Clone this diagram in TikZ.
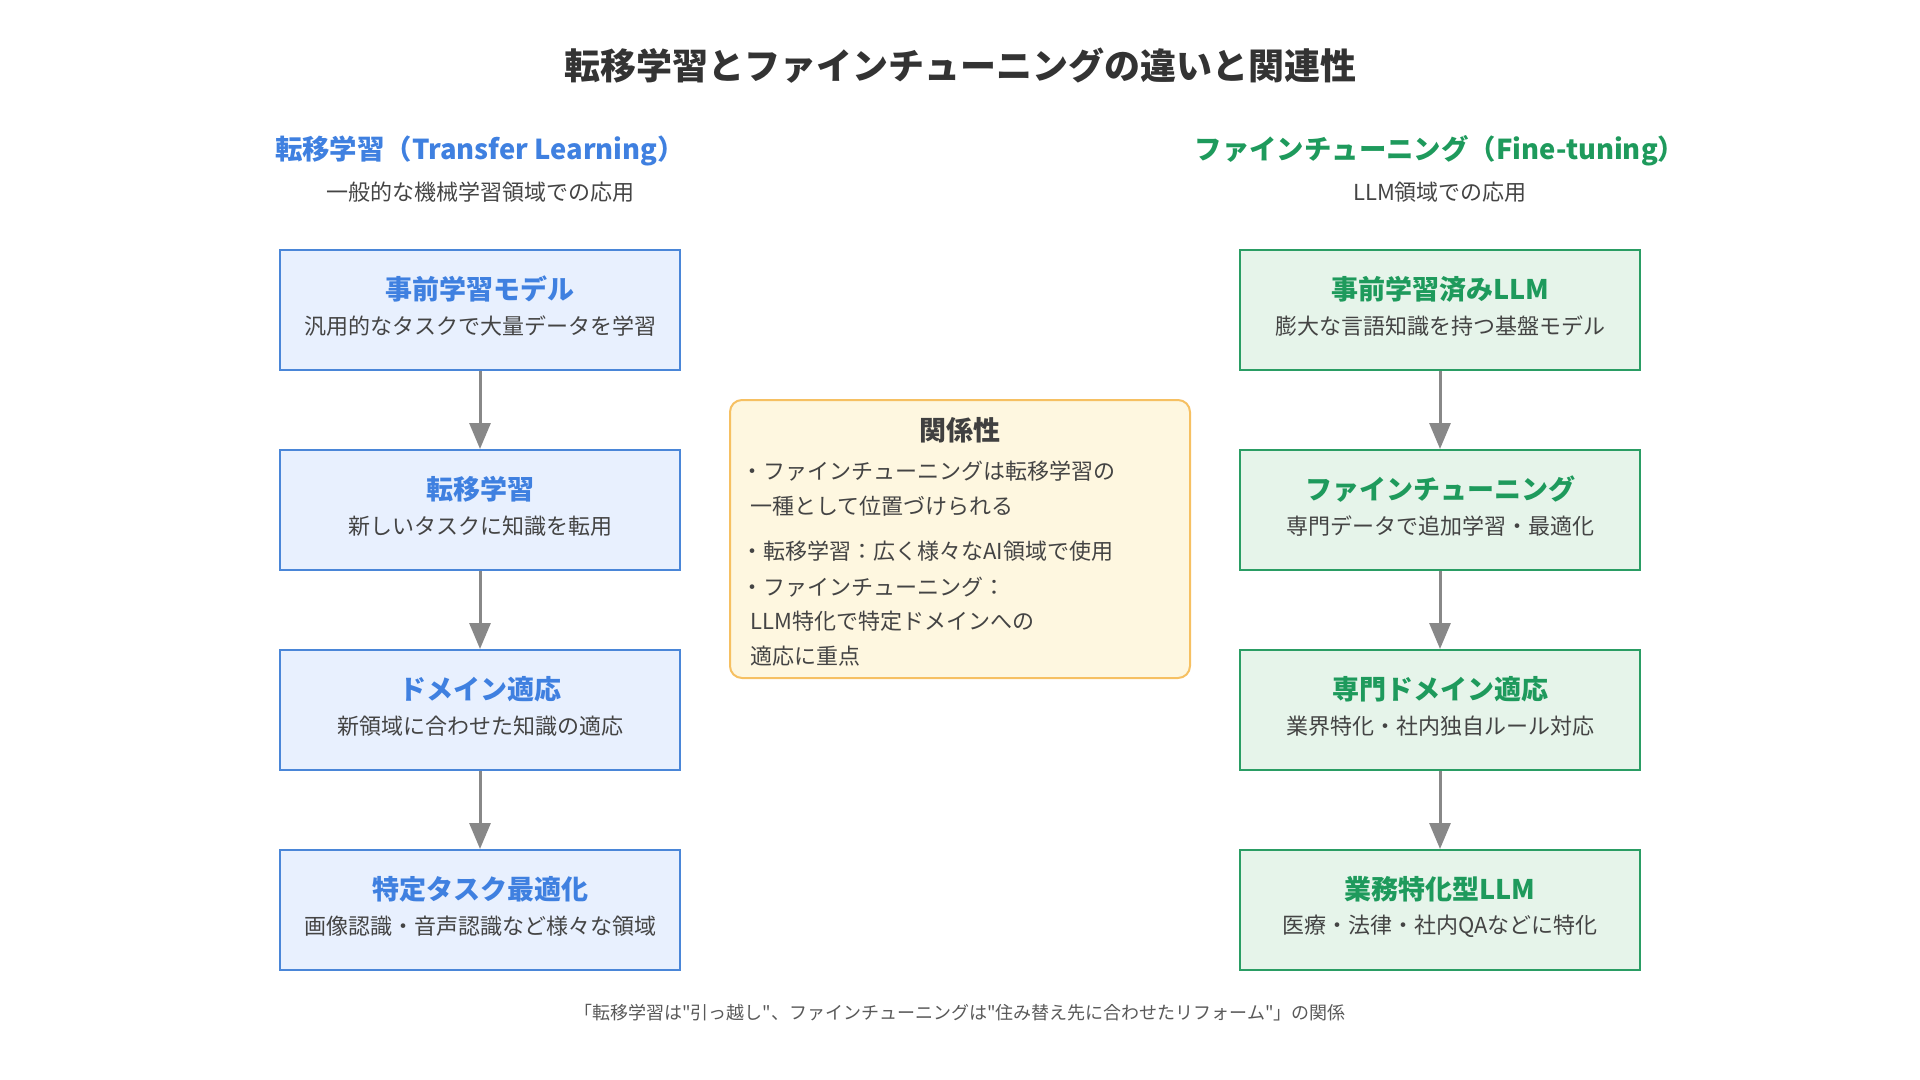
\documentclass[tikz,border=0pt]{standalone}
\usepackage{fontspec}
\setmainfont{Noto Sans CJK JP}[Ligatures=TeXOff]
\usetikzlibrary{arrows.meta}
\definecolor{tlblue}{HTML}{3F80E0}
\definecolor{tlline}{HTML}{4A86D8}
\definecolor{tlfill}{HTML}{E8F0FE}
\definecolor{ftgreen}{HTML}{1E9A5C}
\definecolor{ftline}{HTML}{2A9D64}
\definecolor{ftfill}{HTML}{E6F4EA}
\definecolor{relline}{HTML}{F6C062}
\definecolor{relfill}{HTML}{FEF7E0}
\definecolor{txtgray}{HTML}{444444}
\definecolor{arrgray}{HTML}{888888}
\begin{document}
\begin{tikzpicture}[x=0.5pt,y=-0.5pt,
  tlbox/.style={draw=tlline,fill=tlfill,line width=1pt,minimum width=200pt,minimum height=60pt,inner sep=0pt},
  ftbox/.style={draw=ftline,fill=ftfill,line width=1pt,minimum width=200pt,minimum height=60pt,inner sep=0pt},
  boxtitle/.style={inner sep=0pt,font=\bfseries\fontsize{13.5}{16}\selectfont},
  boxsub/.style={inner sep=0pt,text=txtgray,font=\fontsize{11}{13}\selectfont},
  flow/.style={arrgray,line width=1.5pt,-{Triangle[length=13pt,width=10.5pt]}}]
\useasboundingbox (0,0) rectangle (1920,1080);
\def\lx{480} \def\rx{1440}

\node[inner sep=0pt,text=black!80,font=\bfseries\fontsize{18}{22}\selectfont] (title) at (960,66) {転移学習とファインチューニングの違いと関連性};

\node[inner sep=0pt,text=tlblue,font=\bfseries\fontsize{13.7}{16}\selectfont] (lhead) at (\lx,151) {転移学習（Transfer Learning）};
\node[boxsub] (lsub) at (\lx,192) {一般的な機械学習領域での応用};
\node[inner sep=0pt,text=ftgreen,font=\bfseries\fontsize{13.7}{16}\selectfont] (rhead) at (\rx,151) {ファインチューニング（Fine-tuning）};
\node[boxsub] (rsub) at (\rx,192) {LLM領域での応用};

\node[tlbox] (l1) at (\lx,310) {};
\node[boxtitle,text=tlblue] (l1t) at (\lx,289) {事前学習モデル};
\node[boxsub] (l1s) at (\lx,326) {汎用的なタスクで大量データを学習};
\node[tlbox] (l2) at (\lx,510) {};
\node[boxtitle,text=tlblue] (l2t) at (\lx,489) {転移学習};
\node[boxsub] (l2s) at (\lx,526) {新しいタスクに知識を転用};
\node[tlbox] (l3) at (\lx,710) {};
\node[boxtitle,text=tlblue] (l3t) at (\lx,689) {ドメイン適応};
\node[boxsub] (l3s) at (\lx,726) {新領域に合わせた知識の適応};
\node[tlbox] (l4) at (\lx,910) {};
\node[boxtitle,text=tlblue] (l4t) at (\lx,889) {特定タスク最適化};
\node[boxsub] (l4s) at (\lx,926) {画像認識・音声認識など様々な領域};

\node[ftbox] (r1) at (\rx,310) {};
\node[boxtitle,text=ftgreen] (r1t) at (\rx,289) {事前学習済みLLM};
\node[boxsub] (r1s) at (\rx,326) {膨大な言語知識を持つ基盤モデル};
\node[ftbox] (r2) at (\rx,510) {};
\node[boxtitle,text=ftgreen] (r2t) at (\rx,489) {ファインチューニング};
\node[boxsub] (r2s) at (\rx,526) {専門データで追加学習・最適化};
\node[ftbox] (r3) at (\rx,710) {};
\node[boxtitle,text=ftgreen] (r3t) at (\rx,689) {専門ドメイン適応};
\node[boxsub] (r3s) at (\rx,726) {業界特化・社内独自ルール対応};
\node[ftbox] (r4) at (\rx,910) {};
\node[boxtitle,text=ftgreen] (r4t) at (\rx,889) {業務特化型LLM};
\node[boxsub] (r4s) at (\rx,926) {医療・法律・社内QAなどに特化};

\foreach \a/\b in {l1/l2,l2/l3,l3/l4,r1/r2,r2/r3,r3/r4}
  \draw[flow] (\a) -- (\b);

\node[draw=relline,fill=relfill,line width=1pt,rounded corners=6pt,minimum width=230pt,minimum height=139pt,inner sep=0pt] (rel) at (960,539) {};
\node[boxtitle,text=black!75] (relt) at (960,430) {関係性};
\node[boxsub,anchor=west] (rel1) at (741,471) {・ファインチューニングは転移学習の};
\node[boxsub,anchor=west] (rel2) at (750,506) {一種として位置づけられる};
\node[boxsub,anchor=west] (rel3) at (741,551) {・転移学習：広く様々なAI領域で使用};
\node[boxsub,anchor=west] (rel4) at (741,587) {・ファインチューニング：};
\node[boxsub,anchor=west] (rel5) at (750,621) {LLM特化で特定ドメインへの};
\node[boxsub,anchor=west] (rel6) at (750,656) {適応に重点};

\node[inner sep=0pt,text=black!65,font=\fontsize{9}{11}\selectfont] (foot) at (960,1013) {「転移学習は"引っ越し"、ファインチューニングは"住み替え先に合わせたリフォーム"」の関係};
\end{tikzpicture}
\end{document}
